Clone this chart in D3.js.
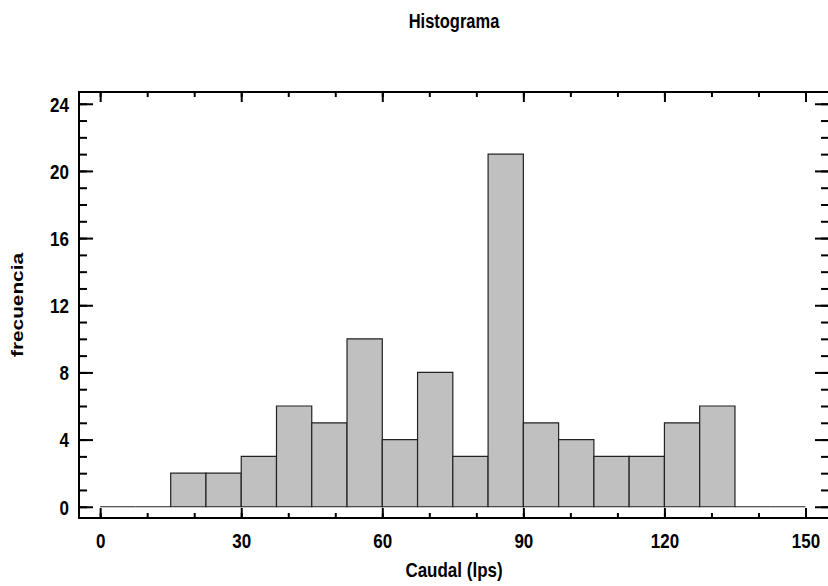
<!DOCTYPE html>
<html>
<head>
<meta charset="utf-8">
<title>Histograma</title>
<script src="https://cdn.jsdelivr.net/npm/d3@7"></script>
<style>
body { margin: 0; background: #fff; }
.tick text { font-family: "Liberation Sans", Arial, sans-serif; font-weight: bold; font-size: 17px; fill: #000; }
.title, .xLabel, .yLabel { font-family: "Liberation Sans", Arial, sans-serif; font-weight: bold; }
.title { font-size: 16.5px; }
.xLabel { font-size: 17px; }
.yLabel { font-size: 16px; }
</style>
</head>
<body>
<svg id="chart" width="828" height="586"></svg>
<script>
// bins of 7.5 lps from 0 to 150
var binStart = [0, 7.5, 15, 22.5, 30, 37.5, 45, 52.5, 60, 67.5, 75, 82.5, 90, 97.5, 105, 112.5, 120, 127.5, 135, 142.5];
var counts   = [0, 0, 2, 2, 3, 6, 5, 10, 4, 8, 3, 21, 5, 4, 3, 3, 5, 6, 0, 0];
var binWidth = 7.5;
var xTicks = [0, 30, 60, 90, 120, 150];
var yTicks = [0, 4, 8, 12, 16, 20, 24];

var width = 828, height = 586;
var margin = {top: 92, right: -1, bottom: 68, left: 79};
var stretch = 1.2; // the original picture is a bit taller than wide

var svg = d3.select('#chart');

var x = d3.scaleLinear()
  .domain([-4.5, 155])
  .range([margin.left, width - margin.right]);

var y = d3.scaleLinear()
  .domain([-0.67, 24.7])
  .range([height - margin.bottom, margin.top]);

var data = binStart.map((b, i) => ({x0: b, x1: b + binWidth, n: counts[i]}));

// bars (zero bars still show as a line on the baseline)
svg.append('g')
  .selectAll('path')
  .data(data)
  .join('path')
  .attr('d', d => `M${x(d.x0)},${y(0)}V${y(d.n)}H${x(d.x1)}V${y(0)}Z`)
  .attr('fill', '#c0c0c0')
  .attr('stroke', '#222')
  .attr('stroke-width', 1.2);

var minorX = d3.range(0, 151, 10);
var minorY = d3.range(0, 25, 1);

function styleAxis(g) {
  g.select('.domain').remove();
  g.selectAll('.tick line').attr('stroke', '#000').attr('stroke-width', 2);
}

// bottom
svg.append('g')
  .attr('transform', `translate(0,${y.range()[0]})`)
  .call(d3.axisBottom(x).tickValues(minorX).tickSize(-5).tickFormat(''))
  .call(styleAxis);
svg.append('g')
  .attr('transform', `translate(0,${y.range()[0]})`)
  .call(d3.axisBottom(x).tickValues(xTicks).tickSize(-10))
  .call(styleAxis)
  .call(g => g.selectAll('.tick text')
    .attr('y', 0).attr('dy', null)
    .attr('transform', `translate(0,30) scale(1,${stretch})`));

// top
svg.append('g')
  .attr('transform', `translate(0,${y.range()[1]})`)
  .call(d3.axisTop(x).tickValues(minorX).tickSize(-5).tickFormat(''))
  .call(styleAxis);
svg.append('g')
  .attr('transform', `translate(0,${y.range()[1]})`)
  .call(d3.axisTop(x).tickValues(xTicks).tickSize(-10).tickFormat(''))
  .call(styleAxis);

// left
svg.append('g')
  .attr('transform', `translate(${x.range()[0]},0)`)
  .call(d3.axisLeft(y).tickValues(minorY).tickSize(-8).tickFormat(''))
  .call(styleAxis);
svg.append('g')
  .attr('transform', `translate(${x.range()[0]},0)`)
  .call(d3.axisLeft(y).tickValues(yTicks).tickSize(-14))
  .call(styleAxis)
  .call(g => g.selectAll('.tick text')
    .attr('x', -10).attr('dy', '0.36em')
    .attr('transform', `scale(1,${stretch})`));

// right
svg.append('g')
  .attr('transform', `translate(${x.range()[1]},0)`)
  .call(d3.axisRight(y).tickValues(minorY).tickSize(-8).tickFormat(''))
  .call(styleAxis);
svg.append('g')
  .attr('transform', `translate(${x.range()[1]},0)`)
  .call(d3.axisRight(y).tickValues(yTicks).tickSize(-14).tickFormat(''))
  .call(styleAxis);

// frame
svg.append('rect')
  .attr('x', x.range()[0])
  .attr('y', y.range()[1])
  .attr('width', x.range()[1] - x.range()[0])
  .attr('height', y.range()[0] - y.range()[1])
  .attr('fill', 'none')
  .attr('stroke', '#000')
  .attr('stroke-width', 2);

var cx = (x.range()[0] + x.range()[1]) / 2;

svg.append('text')
  .attr('class', 'title')
  .attr('text-anchor', 'middle')
  .attr('transform', `translate(${cx},27.5) scale(1,${stretch})`)
  .text('Histograma');

svg.append('text')
  .attr('class', 'xLabel')
  .attr('text-anchor', 'middle')
  .attr('transform', `translate(${cx},577) scale(1,${stretch})`)
  .text('Caudal (lps)');

svg.append('text')
  .attr('class', 'yLabel')
  .attr('text-anchor', 'middle')
  .attr('transform', `translate(23,305) rotate(-90) scale(1.3,1)`)
  .text('frecuencia');
</script>
</body>
</html>
